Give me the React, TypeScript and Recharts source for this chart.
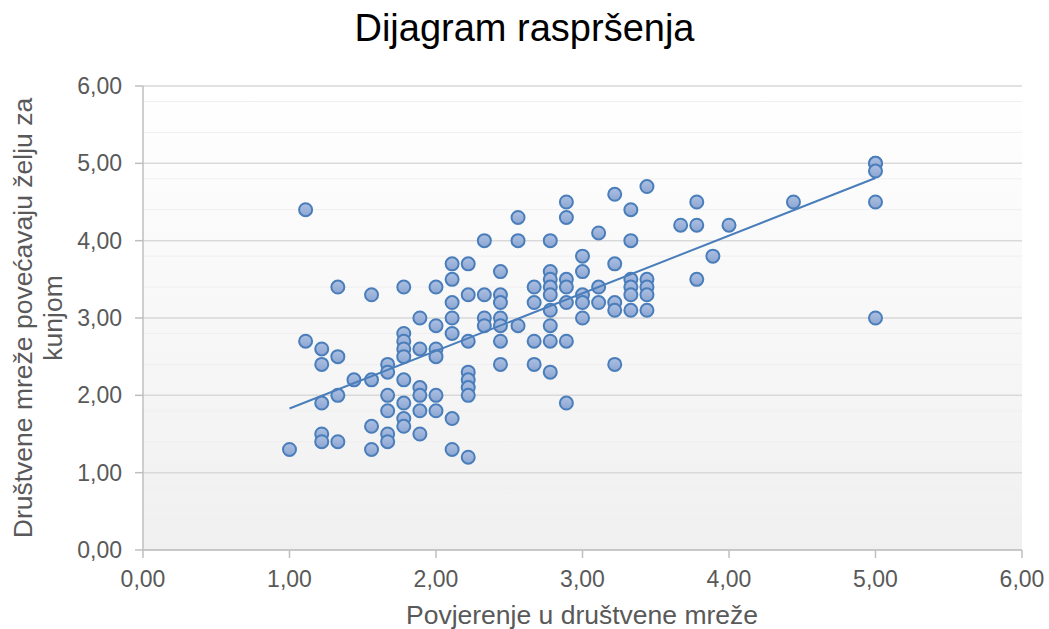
import React from 'react';
import { ScatterChart, Scatter, XAxis, YAxis, CartesianGrid } from 'recharts';

// x levels (mean of 9 items) and the y answers found at each level
const xLevels = [
  1.0, 1.11, 1.22, 1.33, 1.44, 1.56, 1.67, 1.78, 1.89, 2.0, 2.11, 2.22, 2.33, 2.44, 2.56, 2.67,
  2.78, 2.89, 3.0, 3.11, 3.22, 3.33, 3.44, 3.67, 3.78, 3.89, 4.0, 4.44, 5.0,
];

const yAtLevel = [
  [1.3],
  [4.4, 2.7],
  [2.6, 2.4, 1.9, 1.5, 1.4],
  [3.4, 2.5, 2.0, 1.4],
  [2.2],
  [3.3, 2.2, 1.6, 1.3],
  [2.4, 2.3, 2.0, 1.8, 1.5, 1.4],
  [3.4, 2.8, 2.7, 2.6, 2.5, 2.2, 1.9, 1.7, 1.6],
  [3.0, 2.6, 2.1, 2.0, 1.8, 1.5],
  [3.4, 2.9, 2.6, 2.5, 2.0, 1.8],
  [3.7, 3.5, 3.2, 3.0, 2.8, 1.7, 1.3],
  [3.7, 3.3, 2.7, 2.3, 2.2, 2.1, 2.0, 1.2],
  [4.0, 3.3, 3.0, 2.9],
  [3.6, 3.3, 3.2, 3.0, 2.9, 2.7, 2.4],
  [4.3, 4.0, 2.9],
  [3.4, 3.2, 2.7, 2.4],
  [4.0, 3.6, 3.5, 3.4, 3.3, 3.1, 2.9, 2.7, 2.3],
  [4.5, 4.3, 3.5, 3.4, 3.2, 2.7, 1.9],
  [3.8, 3.6, 3.3, 3.2, 3.0],
  [4.1, 3.4, 3.2],
  [4.6, 3.7, 3.2, 3.1, 2.4],
  [4.4, 4.0, 3.5, 3.4, 3.3, 3.1],
  [4.7, 3.5, 3.4, 3.3, 3.1],
  [4.2],
  [4.5, 4.2, 3.5],
  [3.8],
  [4.2],
  [4.5],
  [5.0, 5.0, 4.9, 4.5, 3.0],
];

// linear trend line ends
const trendX = [1.0, 5.0];
const trendY = [1.83, 4.81];

const axisTicks = [0, 1, 2, 3, 4, 5, 6];

const points = xLevels.flatMap((x, i) => yAtLevel[i].map((y) => ({ x, y })));
const trend = trendX.map((x, i) => ({ x, y: trendY[i] }));

const minorLines: number[] = [];
for (let i = 1; i < 30; i++) if (i % 5 !== 0) minorLines.push(i / 5);

const font = '"Liberation Sans", Arial, sans-serif';
const fmt = (v: number) => v.toFixed(2).replace('.', ',');

const Dot = (props: any) => (
  <circle cx={props.cx} cy={props.cy} r={6.5} fill="url(#dotFill)" stroke="#4a7ebb" strokeWidth={2} />
);

export default function App() {
  const tick = { fill: '#595959', fontSize: 23, fontFamily: font };
  return (
    <div style={{ position: 'absolute', left: 0, top: 0, width: 1049, height: 629, background: '#fff', fontFamily: font }}>
      <div
        style={{ position: 'absolute', left: 0, top: 9, width: 1049, textAlign: 'center', fontSize: 38, lineHeight: '38px', color: '#000' }}
      >
        Dijagram raspršenja
      </div>
      <ScatterChart width={1049} height={629} margin={{ top: 86, right: 27, bottom: 0, left: 0 }}>
        <defs>
          <linearGradient id="plotBg" x1="0" y1="0" x2="0" y2="1">
            <stop offset="0%" stopColor="#ffffff" />
            <stop offset="100%" stopColor="#f0f0f0" />
          </linearGradient>
          <linearGradient id="dotFill" x1="0" y1="0" x2="0" y2="1">
            <stop offset="0%" stopColor="#adc0e2" />
            <stop offset="100%" stopColor="#8ca6d2" />
          </linearGradient>
        </defs>
        <CartesianGrid vertical={false} horizontalValues={minorLines} stroke="#efefef" fill="url(#plotBg)" fillOpacity={1} />
        <CartesianGrid vertical={false} horizontalValues={axisTicks} stroke="#d9d9d9" strokeWidth={1.5} />
        <XAxis
          type="number"
          dataKey="x"
          domain={[0, 6]}
          ticks={axisTicks}
          tickFormatter={fmt}
          height={79}
          tick={tick}
          tickSize={8}
          tickMargin={13}
          axisLine={{ stroke: '#bfbfbf', strokeWidth: 1.5 }}
          tickLine={{ stroke: '#bfbfbf', strokeWidth: 1.5 }}
        />
        <YAxis
          type="number"
          dataKey="y"
          domain={[0, 6]}
          ticks={axisTicks}
          tickFormatter={fmt}
          width={143}
          tick={tick}
          tickSize={8}
          tickMargin={13}
          axisLine={{ stroke: '#bfbfbf', strokeWidth: 1.5 }}
          tickLine={{ stroke: '#bfbfbf', strokeWidth: 1.5 }}
        />
        <Scatter data={points} shape={<Dot />} isAnimationActive={false} />
        <Scatter
          data={trend}
          line={{ stroke: '#4a7ebb', strokeWidth: 2 }}
          shape={() => <g />}
          isAnimationActive={false}
        />
      </ScatterChart>
      <div
        style={{ position: 'absolute', left: 332, top: 601, width: 500, textAlign: 'center', fontSize: 26.5, lineHeight: '28px', color: '#595959' }}
      >
        Povjerenje u društvene mreže
      </div>
      <div
        style={{
          position: 'absolute',
          left: 38 - 260,
          top: 318 - 30,
          width: 520,
          height: 60,
          textAlign: 'center',
          fontSize: 26.5,
          lineHeight: '30px',
          color: '#595959',
          transform: 'rotate(-90deg)',
        }}
      >
        Društvene mreže povećavaju želju za
        <br />
        kunjom
      </div>
    </div>
  );
}
